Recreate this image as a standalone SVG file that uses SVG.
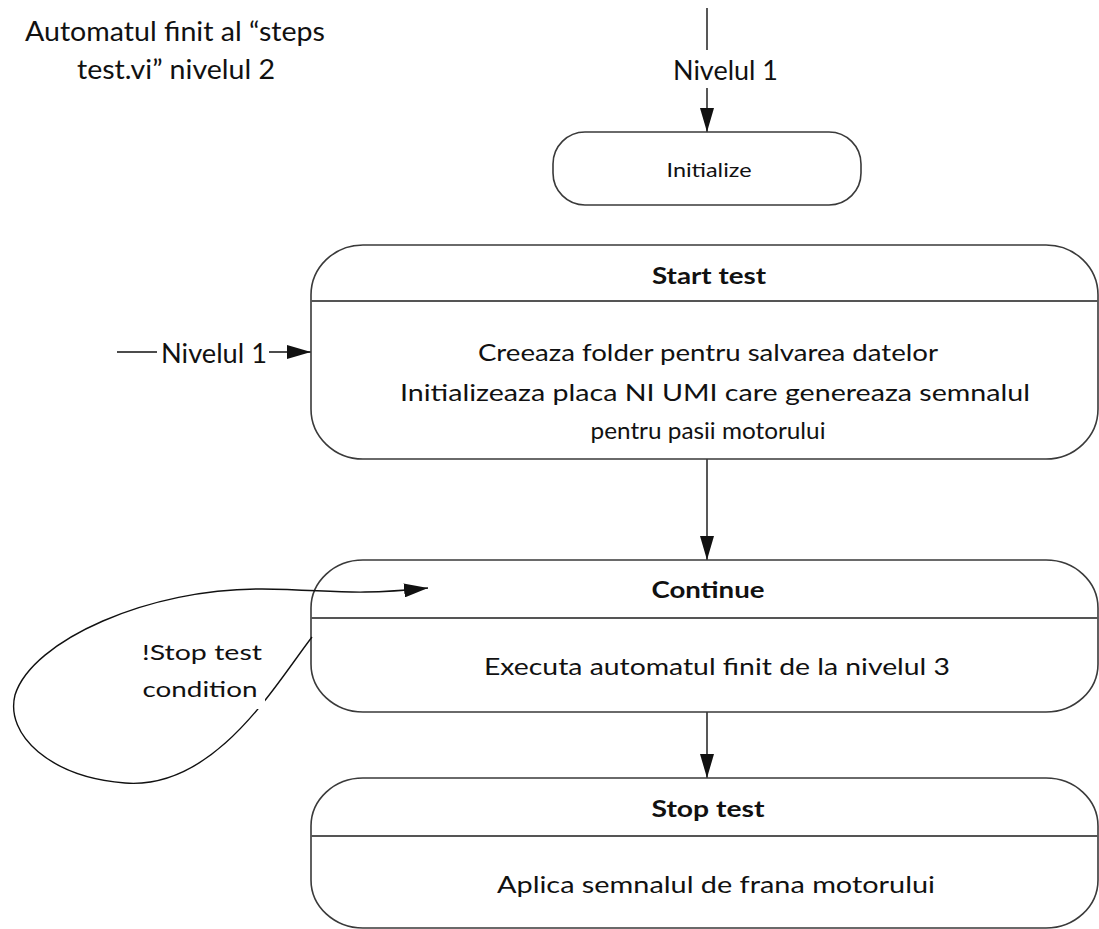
<svg xmlns="http://www.w3.org/2000/svg" width="1099" height="929" viewBox="0 0 1099 929">
  <style>
    .box { fill: #ffffff; stroke: #3a3a3a; stroke-width: 1.6; }
    .div { stroke: #555555; stroke-width: 2; }
    .edge { fill: none; stroke: #111111; stroke-width: 1.4; }
    .t { font-family: Lato, "Liberation Sans", sans-serif; fill: #111111; }
    .body { font-size: 24px; text-anchor: middle; }
    .head { font-size: 23px; font-weight: bold; text-anchor: middle; }
    .lbl { font-size: 26px; }
  </style>
  <defs>
    <marker id="arrow" markerWidth="24" markerHeight="14" refX="24" refY="7" orient="auto" markerUnits="userSpaceOnUse">
      <path d="M0,0 L24,7 L0,14 Z" fill="#111111"/>
    </marker>
  </defs>

  <rect width="1099" height="929" fill="#ffffff"/>

  <!-- title -->
  <g id="title">
    <text class="t lbl" x="175" y="41" text-anchor="middle" textLength="300" lengthAdjust="spacingAndGlyphs">Automatul finit al “steps</text>
    <text class="t lbl" x="176" y="79" text-anchor="middle" textLength="198" lengthAdjust="spacingAndGlyphs">test.vi” nivelul 2</text>
  </g>

  <!-- connectors -->
  <g id="connectors">
    <line class="edge" x1="707" y1="8" x2="707" y2="50"/>
    <line class="edge" x1="707" y1="88" x2="707" y2="132" marker-end="url(#arrow)"/>
    <text class="t lbl" x="673" y="80" textLength="105" lengthAdjust="spacingAndGlyphs">Nivelul 1</text>

    <line class="edge" x1="117" y1="352" x2="157" y2="352"/>
    <line class="edge" x1="269" y1="352" x2="311" y2="352" marker-end="url(#arrow)"/>
    <text class="t lbl" x="161" y="363" textLength="106" lengthAdjust="spacingAndGlyphs">Nivelul 1</text>

    <line class="edge" x1="707" y1="459" x2="707" y2="560" marker-end="url(#arrow)"/>
    <line class="edge" x1="707" y1="712" x2="707" y2="778" marker-end="url(#arrow)"/>
  </g>

  <!-- nodes -->
  <g id="initialize">
    <rect class="box" x="553" y="132" width="308" height="73" rx="32" ry="32"/>
    <text class="t" x="709" y="177" font-size="20" text-anchor="middle" textLength="85" lengthAdjust="spacingAndGlyphs">Initialize</text>
  </g>

  <g id="start-test">
    <rect class="box" x="311" y="245" width="787" height="214" rx="52" ry="50"/>
    <line class="div" x1="311" y1="301" x2="1098" y2="301"/>
    <text class="t head" x="709" y="284" textLength="114" lengthAdjust="spacingAndGlyphs">Start test</text>
    <text class="t body" x="708" y="361" textLength="460" lengthAdjust="spacingAndGlyphs">Creeaza folder pentru salvarea datelor</text>
    <text class="t body" x="715" y="401" textLength="630" lengthAdjust="spacingAndGlyphs">Initializeaza placa NI UMI care genereaza semnalul</text>
    <text class="t body" x="708" y="439" textLength="235" lengthAdjust="spacingAndGlyphs">pentru pasii motorului</text>
  </g>

  <g id="continue">
    <rect class="box" x="311" y="560" width="787" height="152" rx="52" ry="48"/>
    <line class="div" x1="311" y1="618" x2="1098" y2="618"/>
    <text class="t head" x="708" y="598" textLength="113" lengthAdjust="spacingAndGlyphs">Continue</text>
    <text class="t body" x="717" y="675" textLength="466" lengthAdjust="spacingAndGlyphs">Executa automatul finit de la nivelul 3</text>
  </g>

  <g id="stop-test">
    <rect class="box" x="311" y="778" width="787" height="150" rx="52" ry="48"/>
    <line class="div" x1="311" y1="836" x2="1098" y2="836"/>
    <text class="t head" x="708" y="817" textLength="113" lengthAdjust="spacingAndGlyphs">Stop test</text>
    <text class="t body" x="716" y="893" textLength="438" lengthAdjust="spacingAndGlyphs">Aplica semnalul de frana motorului</text>
  </g>

  <!-- self transition on Continue -->
  <g id="loop">
    <path class="edge" d="M312,637 C275,685 215,790 125,783 C50,777 5,735 15,695 C32,640 150,588 262,589 C335,590 350,596 428,588" marker-end="url(#arrow)"/>
    <rect x="255" y="699" width="10" height="10" fill="#ffffff"/>
    <text class="t" x="202" y="660" font-size="22" text-anchor="middle" textLength="120" lengthAdjust="spacingAndGlyphs">!Stop test</text>
    <text class="t" x="200" y="697" font-size="22" text-anchor="middle" textLength="115" lengthAdjust="spacingAndGlyphs">condition</text>
  </g>
</svg>
